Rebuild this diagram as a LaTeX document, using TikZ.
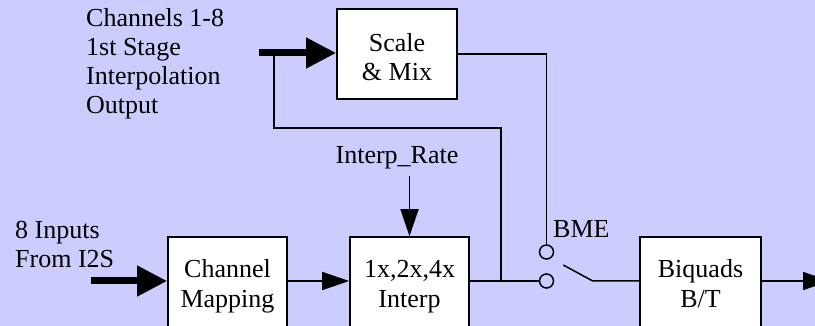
\documentclass[tikz,border=0pt]{standalone}
\usepackage{fontspec}
\newfontfamily\serifA{Liberation Serif}
\usetikzlibrary{arrows.meta}
\definecolor{bg}{HTML}{CCCCFF}
\newcommand\tstrutA[1]{\rule{0pt}{#1}}
\newcommand\bstrutA[1]{\rule[-#1]{0pt}{#1}}
\begin{document}
\begin{tikzpicture}[x=1pt,y=-1pt,
  txt/.style={font=\serifA\fontsize{26}{29}\selectfont},
  blk/.style={txt, draw=black, fill=white, line width=1.6pt, inner sep=0pt, align=center, minimum width=119pt},
  ln/.style={line width=1.5pt},
  arr/.style={ln, -{Triangle[length=27pt,width=18pt]}},
  fat/.style={line width=7pt, -{Triangle[length=30pt,width=29pt]}},
  sw/.style={circle, draw, line width=1.5pt, minimum size=14pt, inner sep=0pt},
  lbl/.style={txt, inner sep=0pt, align=left}]
\path[use as bounding box, fill=bg] (0,0) rectangle (815,326);
% boxes
\node[blk, minimum width=120pt, minimum height=90pt] (sm) at (397,54) {\tstrutA{31pt}Scale\\\& Mix\bstrutA{6pt}};
\node[blk, minimum height=91pt] (cm) at (227.5,282.5) {\tstrutA{26pt}Channel\\Mapping\bstrutA{6pt}};
\node[blk, minimum height=91pt] (ip) at (409.5,282.5) {\tstrutA{26pt}1x,2x,4x\\Interp\bstrutA{6pt}};
\node[blk, minimum width=121pt, minimum height=91pt] (bq) at (700.5,282.5) {\tstrutA{26pt}Biquads\\B/T\bstrutA{6pt}};
% switch contacts
\node[sw] (c1) at (546.5,252) {};
\node[sw] (c2) at (546.5,281) {};
% labels
\node[lbl, anchor=north west] (t1) at (86,6) {\tstrutA{20pt}Channels 1-8\\1st Stage\\Interpolation\\Output};
\node[lbl, anchor=north west] (t2) at (15,218) {\tstrutA{20pt}8 Inputs\\From I2S};
\node[txt, inner sep=0pt, anchor=base] (ir) at (397,164) {Interp\_Rate};
\node[txt, inner sep=0pt, anchor=base west] (bme) at (553,238) {BME};
% coordinates
\coordinate (row) at (0,281);
\coordinate (inA) at (91,281);
\coordinate (inB) at (259,53);
\coordinate (jn) at (501,281);
\coordinate (fb) at (274,128);
\coordinate (bl1) at (563.3,265);
\coordinate (bl2) at (592.7,281);
\coordinate (outE) at (830,281);
% connectors
\draw[fat] (inA) -- (cm.west |- row);
\draw[fat] (inB) -- (sm.west |- inB);
\draw[arr] (cm.east |- row) -- (ip.west |- row);
\draw[arr, shorten <=6pt] (ir.south -| ip.north) -- (ip.north);
\draw[ln] (ip.east |- row) -- (c2.west);
\draw[ln] (jn) |- (fb) -- (fb |- inB);
\draw[ln] (sm.east) -| (c1.north);
\draw[ln] (bl1) -- (bl2) -- (bq.west |- row);
\draw[arr] (bq.east |- row) -- (outE);
\end{tikzpicture}
\end{document}
